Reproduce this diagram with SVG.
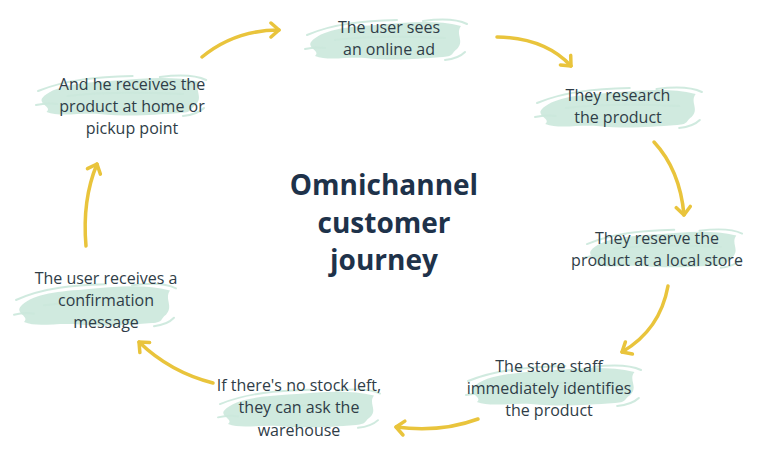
<svg xmlns="http://www.w3.org/2000/svg" width="772" height="450" viewBox="0 0 772 450">
<style>
.lbl{font-family:"Open Sans","Noto Sans",sans-serif;font-size:16px;fill:#2f3d47;text-anchor:middle}
.ttl{font-family:"Open Sans","Noto Sans",sans-serif;font-size:28px;font-weight:700;fill:#1e324a;text-anchor:middle}
.brush{fill:#cbe8dc;opacity:0.9}
.streak{fill:none;stroke:#cbe8dc;stroke-width:2;stroke-linecap:round;opacity:0.9}
.arr{fill:none;stroke:#e9c43c;stroke-width:3.5;stroke-linecap:round;marker-end:url(#head)}
</style>
<defs>
<marker id="head" viewBox="-12 -9 14 18" markerWidth="14" markerHeight="18" refX="0" refY="0" orient="auto" markerUnits="userSpaceOnUse">
<path d="M-8,-7 L0,0 L-8,7" fill="none" stroke="#e9c43c" stroke-width="3.5" stroke-linecap="round" stroke-linejoin="round"/>
</marker>
<g id="brush">
<path class="brush" d="M6,26 C16,14 40,11 70,9 C100,7 128,3 156,10 C150,18 160,25 152,33 C146,37 150,40 138,41 C110,43 90,45 60,42 C40,41 22,45 10,40 C16,35 2,32 6,26 Z"/>
<path class="streak" d="M2,19 C30,7 60,5 92,4"/>
<path class="streak" d="M118,5 C140,2 154,4 162,8"/>
<path class="streak" d="M0,33 C8,31 14,31 20,32"/>
<path class="streak" d="M140,44 C150,43 156,40 160,36"/>
<path class="streak" d="M30,24 C60,20 100,20 140,22" stroke="#e2f3ec"/>
</g>
</defs>
<rect width="772" height="450" fill="#ffffff"/>
<g id="connectors">
<path class="arr" d="M202,57 Q235,30 279,30"/>
<path class="arr" d="M497,37 Q545,38 571,66"/>
<path class="arr" d="M654,142 Q680,170 684,215"/>
<path class="arr" d="M668,286 Q660,330 622,352"/>
<path class="arr" d="M478,419 Q440,433 396,427"/>
<path class="arr" d="M213,383 Q170,372 139,342"/>
<path class="arr" d="M86,246 Q82,200 97,164"/>
</g>
<g id="n1">
<use href="#brush" transform="translate(305,16)"/>
<text class="lbl" x="389" y="33">The user sees</text>
<text class="lbl" x="389" y="55">an online ad</text>
</g>
<g id="n2">
<use href="#brush" transform="translate(535,84) scale(1.03,1)"/>
<text class="lbl" x="618" y="101">They research</text>
<text class="lbl" x="618" y="123">the product</text>
</g>
<g id="n3">
<use href="#brush" transform="translate(585,226) scale(0.97,0.95)"/>
<text class="lbl" x="657" y="244">They reserve the</text>
<text class="lbl" x="657" y="266">product at a local store</text>
</g>
<g id="n4">
<use href="#brush" transform="translate(466,362) scale(1.08,1)"/>
<text class="lbl" x="549" y="372">The store staff</text>
<text class="lbl" x="549" y="394">immediately identifies</text>
<text class="lbl" x="549" y="416">the product</text>
</g>
<g id="n5">
<use href="#brush" transform="translate(218,386) scale(1,0.95)"/>
<text class="lbl" x="299" y="391">If there's no stock left,</text>
<text class="lbl" x="299" y="413">they can ask the</text>
<text class="lbl" x="299" y="436">warehouse</text>
</g>
<g id="n6">
<use href="#brush" transform="translate(14,280) scale(1,1.05)"/>
<text class="lbl" x="106" y="284">The user receives a</text>
<text class="lbl" x="106" y="306">confirmation</text>
<text class="lbl" x="106" y="328">message</text>
</g>
<g id="n7">
<use href="#brush" transform="translate(36,72) scale(1.05,1)"/>
<text class="lbl" x="132" y="90">And he receives the</text>
<text class="lbl" x="132" y="112">product at home or</text>
<text class="lbl" x="132" y="134">pickup point</text>
</g>
<g id="title">
<text class="ttl" x="384" y="195">Omnichannel</text>
<text class="ttl" x="384" y="233">customer</text>
<text class="ttl" x="384" y="270">journey</text>
</g>
</svg>
